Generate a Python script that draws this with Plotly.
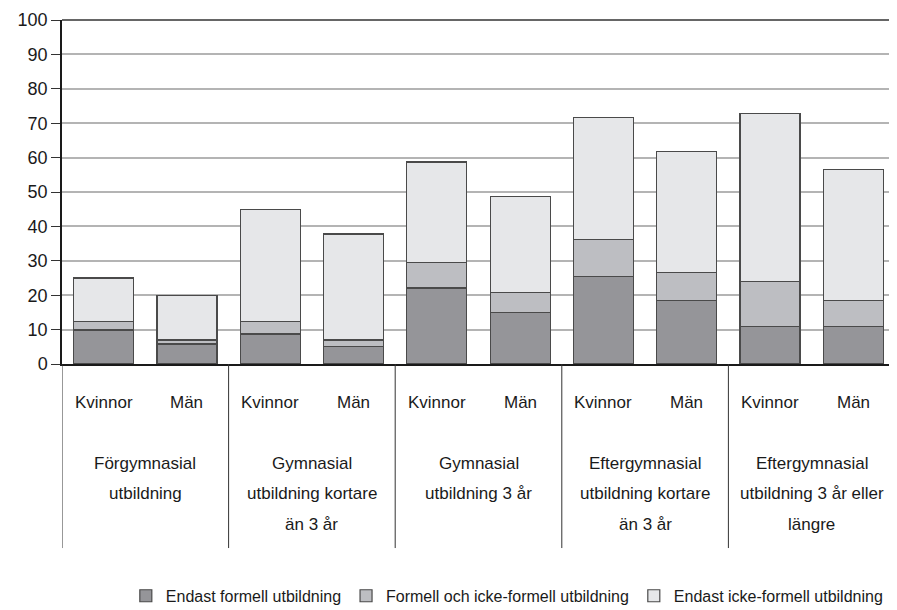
import plotly.graph_objects as go

# data (percent)
groups = [["Förgymnasial", "utbildning"],
          ["Gymnasial", "utbildning kortare", "än 3 år"],
          ["Gymnasial", "utbildning 3 år"],
          ["Eftergymnasial", "utbildning kortare", "än 3 år"],
          ["Eftergymnasial", "utbildning 3 år eller", "längre"]]
sexes = ["Kvinnor", "Män"] * 5

endast_formell = [9.9, 5.8, 8.7, 5.1, 22.1, 15.0, 25.5, 18.5, 11.0, 11.0]
formell_och_icke = [2.4, 1.2, 3.6, 1.9, 7.5, 5.8, 10.6, 8.2, 12.9, 7.5]
endast_icke = [12.7, 13.0, 32.7, 30.8, 29.1, 27.9, 35.6, 35.0, 48.9, 38.0]

series_names = ["Endast formell utbildning",
                "Formell och icke-formell utbildning",
                "Endast icke-formell utbildning"]
colors = ["#959599", "#bdbec2", "#e6e7e9"]

y_ticks = list(range(0, 101, 10))

x_pos = list(range(len(sexes)))
font = dict(family="Liberation Sans, Arial, sans-serif", size=17, color="#1a1a1a")

fig = go.Figure()
for name, vals, col in zip(series_names, [endast_formell, formell_och_icke, endast_icke], colors):
    fig.add_trace(go.Bar(x=x_pos, y=vals, name=name, width=0.72,
                         marker=dict(color=col, line=dict(color="#4a4a4a", width=1.2))))

# Kvinnor / Män labels under each bar
for xi, s in zip(x_pos, sexes):
    fig.add_annotation(x=xi, y=-0.113, xref="x", yref="paper", text=s,
                       showarrow=False, font=font, yanchor="middle")

# group labels (one annotation per line, ~30 px apart) and separator lines
line_step = 30.5 / 344
for g, lines in enumerate(groups):
    for i, txt in enumerate(lines):
        fig.add_annotation(x=2 * g + 0.5, y=-0.288 - i * line_step, xref="x", yref="paper",
                           text=txt, showarrow=False, font=font, yanchor="middle")
    fig.add_shape(type="line", x0=2 * g - 0.5, x1=2 * g - 0.5, y0=0, y1=-0.535,
                  xref="x", yref="paper", line=dict(color="#333333", width=1))

# top and right frame
fig.add_shape(type="line", x0=0, x1=1, y0=1, y1=1, xref="paper", yref="paper",
              line=dict(color="#333333", width=1.5))
fig.add_shape(type="line", x0=1, x1=1, y0=0, y1=1, xref="paper", yref="paper",
              line=dict(color="#555555", width=1.2))

fig.update_xaxes(range=[-0.5, 9.5], showticklabels=False, showgrid=False,
                 zeroline=False, showline=True, linecolor="#1a1a1a", linewidth=1.5,
                 ticks="")
fig.update_yaxes(range=[0, 100], tickvals=y_ticks, showgrid=True, gridcolor="#b4b4b4",
                 gridwidth=1.5, zeroline=False, showline=True, linecolor="#1a1a1a",
                 linewidth=1.5, ticks="outside", ticklen=9, tickcolor="#333333",
                 tickfont=dict(family=font["family"], size=18, color="#1a1a1a"))

# the page body adds an 8 px offset, so the figure is sized to fit inside the window
fig.update_layout(
    width=888, height=601,
    barmode="stack",
    plot_bgcolor="white", paper_bgcolor="white",
    margin=dict(l=54, r=1, t=12, b=245, autoexpand=False),
    font=font,
    showlegend=True,
    legend=dict(orientation="h", x=0.534, xanchor="center", y=-0.674, yanchor="middle",
                traceorder="normal", font=dict(family=font["family"], size=16, color="#1a1a1a"),
                itemwidth=30, tracegroupgap=0),
)

fig.write_html("out.html")
